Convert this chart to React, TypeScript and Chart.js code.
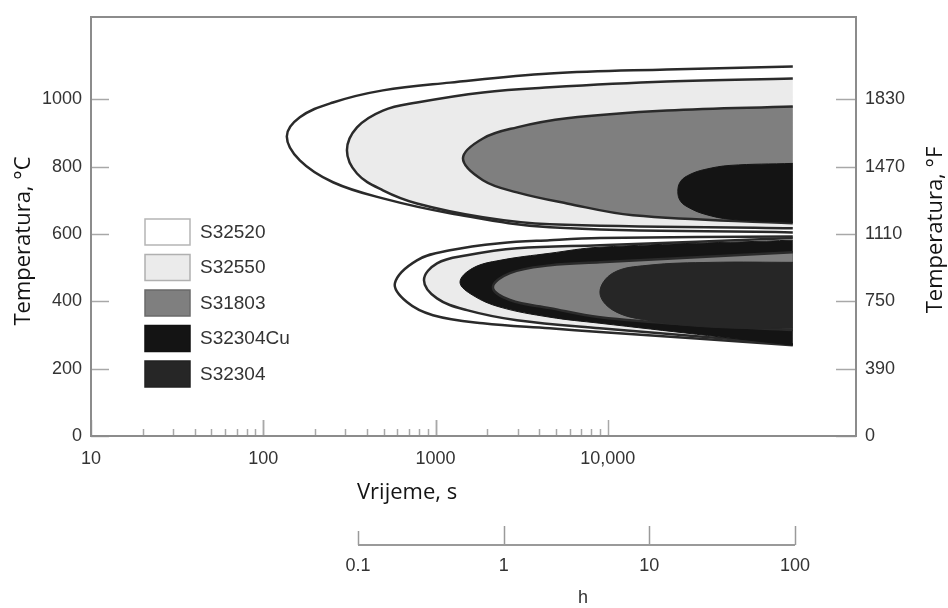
import React, { useEffect, useRef } from "react";
import { Chart, registerables } from "chart.js";

Chart.register(...registerables);

// ---------- DATA ----------
const alloyNames = ["S32520", "S32550", "S31803", "S32304Cu", "S32304"];

const xTickValues = [10, 100, 1000, 10000];
const xTickLabels = ["10", "100", "1000", "10,000"];
const yTickValuesC = [0, 200, 400, 600, 800, 1000];
const yTickLabelsF = ["0", "390", "750", "1110", "1470", "1830"];
const hTickValues = [0.1, 1, 10, 100];
const hTickLabels = ["0.1", "1", "10", "100"];

// Upper (high-temperature) curves: time in s, temperature in °C
const upperS32520Time = [118600, 22000, 4613, 1213, 495, 254, 163, 137, 163, 254, 495, 1213, 4613, 118600];
const upperS32520Temp = [1098, 1089, 1077, 1050, 1027, 991, 947, 890, 819, 754, 706, 662, 620, 605];

const upperS32550Time = [118600, 22000, 4613, 1884, 780, 495, 350, 306, 350, 495, 780, 1884, 4613, 118600];
const upperS32550Temp = [1062, 1053, 1036, 1021, 991, 967, 917, 849, 780, 730, 691, 650, 629, 617];

const upperS31803Time = [118600, 22000, 5790, 2968, 1884, 1443, 1884, 2968, 5790, 14000, 118600];
const upperS31803Temp = [979, 967, 944, 917, 884, 825, 760, 724, 691, 656, 632];

const upperS32304CuTime = [118600, 51200, 36600, 29970, 26500, 25500, 26500, 29970, 36600, 51200, 118600];
const upperS32304CuTemp = [810, 804, 792, 777, 757, 727, 697, 677, 659, 644, 635];

// Lower (low-temperature) curves
const lowerS32520Time = [118600, 9000, 4613, 2366, 1213, 780, 581, 682, 966, 1884, 4613, 9000, 118600];
const lowerS32520Temp = [593, 588, 582, 573, 552, 522, 454, 398, 359, 335, 320, 309, 270];

const lowerS32550Time = [118600, 9000, 2968, 1521, 1020, 857, 1020, 1521, 2968, 9000, 118600];
const lowerS32550Temp = [588, 567, 558, 537, 513, 463, 409, 374, 344, 320, 273];

const lowerS32304CuTime = [118600, 9000, 4613, 2366, 1648, 1387, 1648, 2366, 4613, 9000, 118600];
const lowerS32304CuTemp = [582, 561, 543, 522, 499, 457, 418, 383, 353, 335, 270];

const lowerS31803Time = [118600, 9000, 4613, 2704, 2153, 2704, 4613, 9000, 34300, 118600];
const lowerS31803Temp = [546, 516, 507, 484, 442, 404, 380, 353, 329, 315];

const lowerS32304Time = [118600, 40800, 16900, 10700, 9000, 10700, 16900, 40800, 118600];
const lowerS32304Temp = [516, 516, 507, 484, 427, 374, 344, 323, 320];

// ---------- STYLES ----------
const alloyFill: Record<string, string> = {
  S32520: "#ffffff",
  S32550: "#ebebeb",
  S31803: "#7f7f7f",
  S32304Cu: "#141414",
  S32304: "#262626",
};
const alloyLine: Record<string, string> = {
  S32520: "#2a2a2a",
  S32550: "#2a2a2a",
  S31803: "#2a2a2a",
  S32304Cu: "#141414",
  S32304: "#262626",
};
const legendBorder: Record<string, string> = {
  S32520: "#b5b5b5",
  S32550: "#b0b0b0",
  S31803: "#6a6a6a",
  S32304Cu: "#111111",
  S32304: "#222222",
};

const shapes = [
  { alloy: "S32520", t: upperS32520Time, T: upperS32520Temp },
  { alloy: "S32550", t: upperS32550Time, T: upperS32550Temp },
  { alloy: "S31803", t: upperS31803Time, T: upperS31803Temp },
  { alloy: "S32304Cu", t: upperS32304CuTime, T: upperS32304CuTemp },
  { alloy: "S32520", t: lowerS32520Time, T: lowerS32520Temp },
  { alloy: "S32550", t: lowerS32550Time, T: lowerS32550Temp },
  { alloy: "S32304Cu", t: lowerS32304CuTime, T: lowerS32304CuTemp },
  { alloy: "S31803", t: lowerS31803Time, T: lowerS31803Temp },
  { alloy: "S32304", t: lowerS32304Time, T: lowerS32304Temp },
];

const TICK_FONT = "18px 'Liberation Sans', Arial, sans-serif";
const LEGEND_FONT = "19px 'Liberation Sans', Arial, sans-serif";
const TITLE_FONT = "22px 'Open Sans', 'Noto Sans', sans-serif";

const overlayPlugin = {
  id: "overlay",
  afterDraw(chart: any) {
    const ctx: CanvasRenderingContext2D = chart.ctx;
    const { left, right, top, bottom } = chart.chartArea;
    const xs = chart.scales.x;
    const ys = chart.scales.y;
    const hs = chart.scales.xh;
    const seg = (x1: number, y1: number, x2: number, y2: number) => {
      ctx.beginPath();
      ctx.moveTo(x1, y1);
      ctx.lineTo(x2, y2);
      ctx.stroke();
    };
    ctx.save();

    // ticks (inward)
    ctx.strokeStyle = "#a8a8a8";
    ctx.lineWidth = 1.5;
    for (const v of yTickValuesC) {
      const py = Math.round(ys.getPixelForValue(v)) + 0.5;
      seg(left, py, left + 18, py);
      seg(right - 20, py, right, py);
    }
    for (let d = 10; d < 10000; d *= 10) {
      for (let k = 1; k <= 10; k++) {
        const v = d * k;
        const px = Math.round(xs.getPixelForValue(v)) + 0.5;
        const major = k === 1 || k === 10;
        seg(px, bottom, px, bottom - (major ? 16 : 7));
      }
    }

    // frame
    ctx.strokeStyle = "#8c8c8c";
    ctx.lineWidth = 2;
    ctx.strokeRect(left, top, right - left, bottom - top);

    // tick labels
    ctx.fillStyle = "#333333";
    ctx.font = TICK_FONT;
    ctx.textBaseline = "middle";
    ctx.textAlign = "right";
    yTickValuesC.forEach((v) => ctx.fillText(String(v), left - 9, ys.getPixelForValue(v)));
    ctx.textAlign = "left";
    yTickLabelsF.forEach((lab, i) => ctx.fillText(lab, right + 9, ys.getPixelForValue(yTickValuesC[i])));
    ctx.textAlign = "center";
    xTickValues.forEach((v, i) => ctx.fillText(xTickLabels[i], xs.getPixelForValue(v), bottom + 23));

    // hours axis
    const hy = 545;
    const h0 = hs.getPixelForValue(hTickValues[0]);
    const h1 = hs.getPixelForValue(hTickValues[hTickValues.length - 1]);
    ctx.strokeStyle = "#9a9a9a";
    ctx.lineWidth = 2;
    seg(h0, hy, h1, hy);
    ctx.lineWidth = 1.5;
    hTickValues.forEach((v, i) => {
      const px = Math.round(hs.getPixelForValue(v)) + 0.5;
      seg(px, hy, px, hy - (i === 0 ? 14 : 19));
    });
    ctx.fillStyle = "#333333";
    hTickValues.forEach((v, i) => ctx.fillText(hTickLabels[i], hs.getPixelForValue(v), hy + 21));
    ctx.fillText("h", 583, 598);

    // axis titles
    ctx.fillStyle = "#141414";
    ctx.font = TITLE_FONT;
    ctx.textAlign = "left";
    ctx.fillText("Vrijeme, s", 357, 493);
    ctx.textAlign = "center";
    ctx.save();
    ctx.translate(24, 241);
    ctx.rotate(-Math.PI / 2);
    ctx.fillText("Temperatura, °C", 0, 0);
    ctx.restore();
    ctx.save();
    ctx.translate(936, 230);
    ctx.rotate(-Math.PI / 2);
    ctx.fillText("Temperatura, °F", 0, 0);
    ctx.restore();

    // legend
    ctx.font = LEGEND_FONT;
    ctx.textAlign = "left";
    alloyNames.forEach((name, i) => {
      const by = 219 + i * 35.5;
      ctx.fillStyle = alloyFill[name];
      ctx.fillRect(145, by, 45, 26);
      ctx.strokeStyle = legendBorder[name];
      ctx.lineWidth = 1.5;
      ctx.strokeRect(145, by, 45, 26);
      ctx.fillStyle = "#333333";
      ctx.fillText(name, 200, by + 13.5);
    });

    ctx.restore();
  },
};

export default function App() {
  const canvasRef = useRef<HTMLCanvasElement | null>(null);

  useEffect(() => {
    if (!canvasRef.current) return;
    const datasets = shapes.map((s, i) => ({
      label: s.alloy,
      data: s.t.map((t, j) => ({ x: t, y: s.T[j] })),
      showLine: true,
      fill: "shape",
      backgroundColor: alloyFill[s.alloy],
      borderColor: alloyLine[s.alloy],
      borderWidth: s.alloy === "S32304Cu" || s.alloy === "S32304" ? 1 : 2.5,
      pointRadius: 0,
      tension: 0.38,
      borderJoinStyle: "round",
      order: shapes.length - i,
    }));
    const chart = new Chart(canvasRef.current, {
      type: "scatter",
      data: { datasets: datasets as any },
      options: {
        animation: false,
        responsive: false,
        devicePixelRatio: 1,
        layout: { padding: { left: 91, right: 92, top: 17, bottom: 172 } },
        plugins: { legend: { display: false }, tooltip: { enabled: false } },
        events: [],
        scales: {
          x: { type: "logarithmic", min: 10, max: 276000, display: false },
          xh: { type: "logarithmic", axis: "x", position: "bottom", min: 0.00147, max: 262, display: false },
          y: { type: "linear", min: 0, max: 1245, display: false },
        },
      } as any,
      plugins: [overlayPlugin],
    });
    return () => chart.destroy();
  }, []);

  return (
    <div style={{ position: "fixed", left: 0, top: 0, width: 948, height: 608, background: "#fff" }}>
      <canvas ref={canvasRef} width={948} height={608} style={{ display: "block" }} />
    </div>
  );
}
